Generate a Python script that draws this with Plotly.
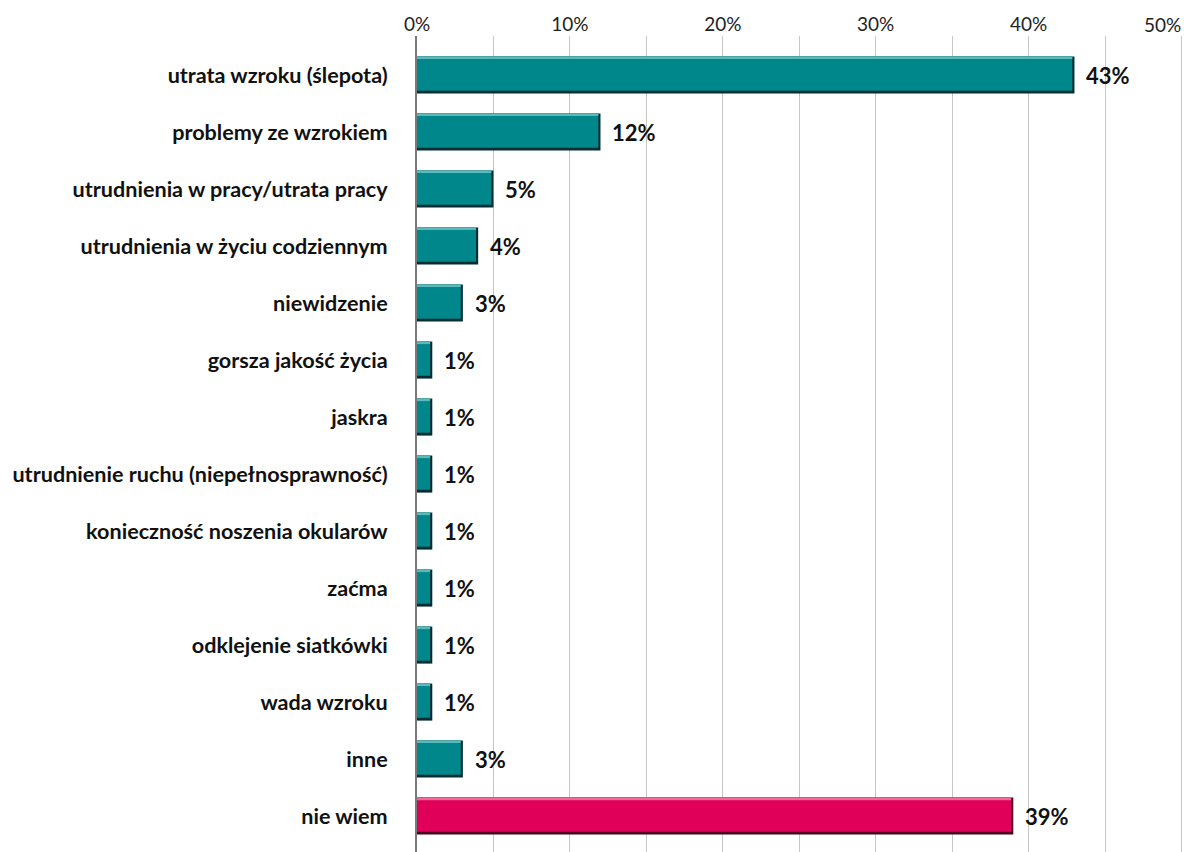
import plotly.graph_objects as go

# Survey answers and their shares (%)
categories = [
    "utrata wzroku (ślepota)",
    "problemy ze wzrokiem",
    "utrudnienia w pracy/utrata pracy",
    "utrudnienia w życiu codziennym",
    "niewidzenie",
    "gorsza jakość życia",
    "jaskra",
    "utrudnienie ruchu (niepełnosprawność)",
    "konieczność noszenia okularów",
    "zaćma",
    "odklejenie siatkówki",
    "wada wzroku",
    "inne",
    "nie wiem",
]
values = [43, 12, 5, 4, 3, 1, 1, 1, 1, 1, 1, 1, 3, 39]
value_labels = [f"{v}%" for v in values]
x_tick_values = [0, 10, 20, 30, 40]
x_tick_labels = ["0%", "10%", "20%", "30%", "40%"]

# Colour scheme: body / highlight / shade, teal for answers, crimson for "nie wiem"
teal = ("#00878c", "#5cb8ba", "#022e31")
crimson = ("#e0005a", "#ef6a98", "#4b0320")
palette = [crimson if c == "nie wiem" else teal for c in categories]
body_colors = [p[0] for p in palette]
light_colors = [p[1] for p in palette]
dark_colors = [p[2] for p in palette]

BAR_H = 0.65      # bar thickness in category units
EDGE_X = 0.14     # shaded right edge (% units)
BOTTOM = 0.05     # shaded bottom strip (category units)
TOP = 0.045       # highlight strip on top (category units)

fig = go.Figure()

# shaded bar underneath: full length of the value
fig.add_trace(go.Bar(
    y=categories, x=values, orientation="h",
    width=BAR_H, offset=-BAR_H / 2,
    marker=dict(color=dark_colors, line=dict(width=0)),
    hoverinfo="skip", showlegend=False,
))
# main face of the bar
fig.add_trace(go.Bar(
    y=categories, x=[v - EDGE_X for v in values], orientation="h",
    width=BAR_H - BOTTOM, offset=-BAR_H / 2,
    marker=dict(color=body_colors, line=dict(width=0)),
    hoverinfo="skip", showlegend=False,
))
# light bevel on top
fig.add_trace(go.Bar(
    y=categories, x=[v - EDGE_X for v in values], orientation="h",
    width=TOP, offset=-BAR_H / 2,
    marker=dict(color=light_colors, line=dict(width=0)),
    hoverinfo="skip", showlegend=False,
))

# value labels next to the bar ends
for cat, v, lab in zip(categories, values, value_labels):
    fig.add_annotation(
        x=v, y=cat, text=f"<b>{lab}</b>", showarrow=False,
        xanchor="left", yanchor="middle", xshift=10,
        font=dict(family="Lato", size=22, color="#111111"),
    )

# last tick label sits inside the plot edge
fig.add_annotation(
    x=1.0, xref="paper", y=1.0, yref="paper", yshift=12,
    text="50%", showarrow=False, xanchor="right", yanchor="middle",
    font=dict(family="Lato", size=19, color="#222222"),
)

n = len(categories)
fig.update_layout(
    width=1184, height=852,
    margin=dict(l=417, r=1, t=36, b=0),
    paper_bgcolor="white", plot_bgcolor="white",
    barmode="overlay",
    font=dict(family="Lato", color="#111111"),
    xaxis=dict(
        side="top", range=[0, 50.1],
        tickvals=x_tick_values, ticktext=x_tick_labels,
        tickfont=dict(family="Lato", size=19, color="#222222"),
        showgrid=True, gridcolor="#c6c6c6", gridwidth=1,
        minor=dict(dtick=5, showgrid=True, gridcolor="#c6c6c6", gridwidth=1),
        zeroline=False, showline=False, ticks="",
        fixedrange=True,
    ),
    yaxis=dict(
        categoryorder="array", categoryarray=categories,
        range=[n - 1 + 0.5 + 0.13, -0.5 - 0.185],
        tickfont=dict(family="Lato", size=21.6, color="#111111", weight="bold"),
        ticks="", ticklabelstandoff=23,
        showline=True, linecolor="#7a7a7a", linewidth=2,
        showgrid=False, zeroline=False,
        fixedrange=True,
    ),
)

fig.write_html("out.html")
